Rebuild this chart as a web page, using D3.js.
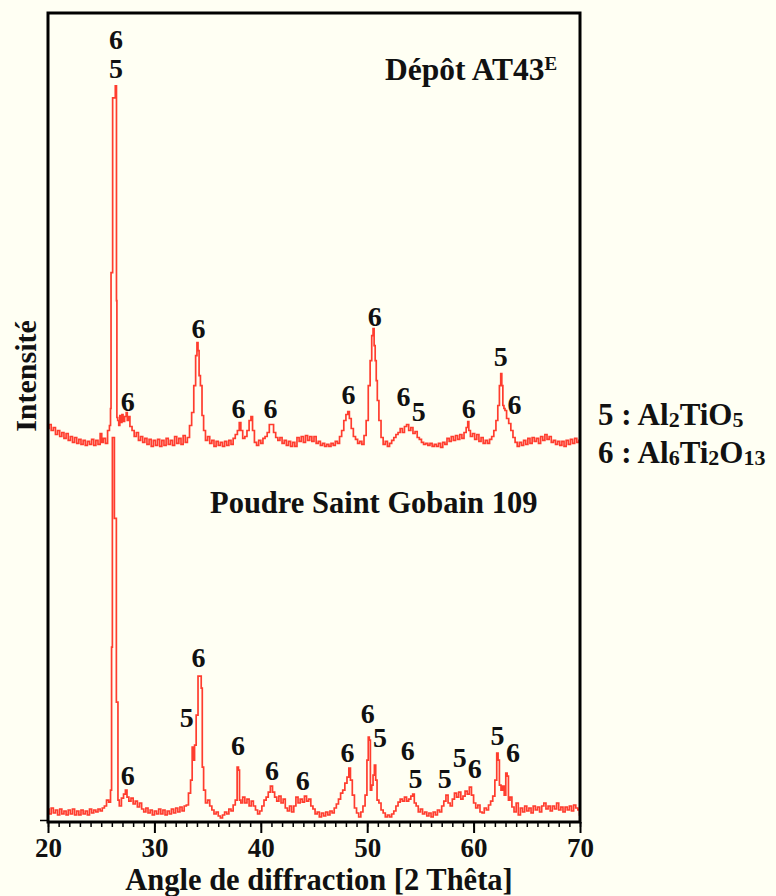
<!DOCTYPE html>
<html>
<head>
<meta charset="utf-8">
<script src="https://cdn.jsdelivr.net/npm/d3@7"></script>
<style>
  html, body { margin: 0; padding: 0; background: #fffff3; }
  svg text { font-family: "Liberation Serif", "Times New Roman", serif; fill: #111; }
</style>
</head>
<body>
<div id="chart"></div>
<script>
// Angle (2 theta) and intensity pairs, upper pattern (Dépôt AT43E)
const depotPoints = [
  [20.0, 24], [20.2, 28], [20.4, 22], [20.6, 25], [20.8, 18], [21.0, 22], [21.2, 16], [21.4, 20],
  [21.6, 14], [21.8, 19], [22.0, 12], [22.2, 16], [22.4, 10], [22.6, 15], [22.8, 9], [23.0, 13],
  [23.2, 8], [23.4, 12], [23.6, 7], [23.8, 11], [24.0, 8], [24.2, 13], [24.4, 7], [24.6, 12],
  [24.8, 8], [25.0, 19], [25.1, 10], [25.3, 14], [25.5, 9], [25.7, 22], [25.85, 27], [25.9, 44],
  [25.95, 180], [26.05, 180], [26.1, 355], [26.3, 355], [26.35, 367], [26.42, 367], [26.45, 152],
  [26.5, 35], [26.6, 32], [26.7, 27], [26.8, 37], [26.9, 30], [27.0, 38], [27.1, 31], [27.3, 36],
  [27.4, 40], [27.5, 32], [27.6, 36], [27.8, 26], [28.0, 22], [28.2, 16], [28.4, 20], [28.6, 12],
  [28.8, 16], [29.0, 10], [29.2, 14], [29.4, 8], [29.6, 13], [29.8, 6], [30.0, 12], [30.2, 7],
  [30.4, 13], [30.6, 6], [30.8, 12], [31.0, 7], [31.2, 14], [31.4, 8], [31.6, 12], [31.8, 7],
  [32.0, 16], [32.2, 9], [32.4, 14], [32.6, 8], [32.8, 17], [33.0, 10], [33.2, 15], [33.4, 27],
  [33.6, 40], [33.8, 67], [33.95, 97], [34.05, 110], [34.15, 102], [34.25, 77], [34.4, 67],
  [34.55, 37], [34.7, 22], [34.9, 12], [35.1, 16], [35.3, 9], [35.5, 12], [35.7, 6], [35.9, 11],
  [36.1, 7], [36.3, 10], [36.5, 6], [36.7, 11], [36.9, 7], [37.1, 12], [37.3, 8], [37.5, 14],
  [37.7, 18], [37.9, 22], [38.05, 30], [38.2, 22], [38.4, 14], [38.6, 16], [38.8, 22], [39.0, 32],
  [39.15, 36], [39.3, 22], [39.5, 10], [39.7, 7], [39.9, 12], [40.1, 9], [40.3, 14], [40.5, 16],
  [40.7, 20], [40.9, 28], [41.1, 28], [41.3, 20], [41.5, 15], [41.7, 12], [41.9, 15], [42.1, 9],
  [42.3, 12], [42.5, 7], [42.7, 11], [42.9, 6], [43.1, 10], [43.3, 6], [43.5, 15], [43.7, 11],
  [43.9, 16], [44.1, 10], [44.3, 17], [44.5, 12], [44.7, 16], [44.9, 11], [45.1, 16], [45.3, 9],
  [45.5, 11], [45.7, 7], [45.9, 9], [46.1, 6], [46.3, 8], [46.5, 6], [46.7, 9], [46.9, 7],
  [47.1, 11], [47.3, 9], [47.5, 16], [47.7, 22], [47.9, 32], [48.1, 38], [48.25, 41], [48.4, 34],
  [48.6, 24], [48.8, 16], [49.0, 13], [49.2, 9], [49.4, 11], [49.6, 8], [49.8, 17], [50.0, 32],
  [50.2, 67], [50.35, 92], [50.5, 117], [50.6, 124], [50.7, 107], [50.8, 92], [50.9, 72], [51.0, 52],
  [51.2, 32], [51.4, 15], [51.6, 8], [51.8, 11], [52.0, 6], [52.2, 9], [52.4, 12], [52.6, 15],
  [52.8, 18], [53.0, 20], [53.2, 24], [53.4, 20], [53.6, 26], [53.8, 28], [54.0, 22], [54.2, 25],
  [54.4, 19], [54.6, 21], [54.8, 15], [55.0, 13], [55.2, 10], [55.4, 8], [55.6, 9], [55.8, 7],
  [56.0, 9], [56.2, 6], [56.4, 8], [56.6, 6], [56.8, 9], [57.0, 5], [57.2, 10], [57.4, 8],
  [57.6, 14], [57.8, 11], [58.0, 16], [58.2, 12], [58.4, 17], [58.6, 13], [58.8, 18], [59.0, 14],
  [59.2, 20], [59.4, 25], [59.5, 31], [59.6, 22], [59.8, 16], [60.0, 19], [60.2, 13], [60.4, 18],
  [60.6, 11], [60.8, 15], [61.0, 9], [61.2, 12], [61.4, 9], [61.6, 13], [61.8, 16], [62.0, 22],
  [62.2, 32], [62.35, 47], [62.5, 67], [62.6, 79], [62.7, 67], [62.8, 47], [62.9, 44], [63.0, 42],
  [63.2, 34], [63.4, 29], [63.6, 22], [63.8, 15], [64.0, 10], [64.2, 6], [64.4, 10], [64.6, 7],
  [64.8, 12], [65.0, 8], [65.2, 14], [65.4, 9], [65.6, 15], [65.8, 11], [66.0, 14], [66.2, 9],
  [66.4, 16], [66.6, 12], [66.8, 18], [67.0, 13], [67.2, 16], [67.4, 10], [67.6, 12], [67.8, 8],
  [68.0, 11], [68.2, 7], [68.4, 11], [68.6, 6], [68.8, 12], [69.0, 8], [69.2, 13], [69.4, 9],
  [69.6, 14], [69.8, 10], [70.0, 12]
];

// lower pattern (Poudre Saint Gobain 109)
const poudrePoints = [
  [20.0, 13], [20.2, 8], [20.4, 14], [20.6, 9], [20.8, 12], [21.0, 7], [21.2, 13], [21.4, 8],
  [21.6, 11], [21.8, 7], [22.0, 12], [22.2, 8], [22.4, 13], [22.6, 7], [22.8, 11], [23.0, 7],
  [23.2, 12], [23.4, 8], [23.6, 11], [23.8, 7], [24.0, 13], [24.2, 9], [24.4, 12], [24.6, 10],
  [24.8, 13], [25.0, 11], [25.2, 14], [25.4, 16], [25.6, 22], [25.8, 20], [25.95, 32], [26.0, 175],
  [26.1, 385], [26.2, 385], [26.28, 304], [26.4, 304], [26.45, 120], [26.55, 120], [26.6, 22],
  [26.8, 16], [27.0, 24], [27.2, 28], [27.35, 32], [27.5, 25], [27.7, 21], [27.9, 24], [28.1, 18],
  [28.3, 21], [28.5, 15], [28.7, 19], [28.9, 13], [29.1, 10], [29.3, 14], [29.5, 9], [29.7, 12],
  [29.9, 7], [30.1, 11], [30.3, 8], [30.5, 13], [30.7, 8], [30.9, 12], [31.1, 7], [31.3, 11],
  [31.5, 8], [31.7, 13], [31.9, 9], [32.1, 14], [32.3, 10], [32.5, 15], [32.7, 11], [32.9, 16],
  [33.1, 17], [33.3, 29], [33.5, 42], [33.6, 75], [33.7, 62], [33.85, 77], [34.0, 107], [34.2, 146],
  [34.35, 146], [34.45, 134], [34.55, 55], [34.7, 32], [34.9, 19], [35.1, 22], [35.3, 16], [35.5, 12],
  [35.7, 8], [35.9, 10], [36.1, 6], [36.3, 4], [36.5, 7], [36.7, 10], [36.9, 8], [37.1, 13],
  [37.3, 11], [37.5, 17], [37.7, 22], [37.85, 55], [37.95, 52], [38.05, 22], [38.2, 19], [38.4, 25],
  [38.6, 19], [38.8, 23], [39.0, 16], [39.2, 21], [39.4, 16], [39.6, 12], [39.8, 8], [40.0, 11],
  [40.2, 16], [40.4, 22], [40.6, 25], [40.8, 30], [41.0, 36], [41.2, 30], [41.4, 25], [41.6, 21],
  [41.8, 26], [42.0, 19], [42.2, 23], [42.4, 14], [42.6, 11], [42.8, 16], [43.0, 10], [43.2, 16],
  [43.4, 25], [43.6, 19], [43.8, 23], [44.0, 20], [44.2, 26], [44.4, 21], [44.6, 23], [44.8, 16],
  [45.0, 13], [45.2, 8], [45.4, 10], [45.6, 5], [45.8, 9], [46.0, 6], [46.2, 10], [46.4, 7],
  [46.6, 11], [46.8, 9], [47.0, 14], [47.2, 18], [47.4, 23], [47.6, 29], [47.8, 32], [48.0, 39],
  [48.2, 45], [48.35, 54], [48.5, 42], [48.7, 27], [48.9, 14], [49.1, 9], [49.3, 5], [49.5, 10],
  [49.7, 16], [49.9, 27], [50.05, 62], [50.15, 85], [50.25, 82], [50.35, 32], [50.5, 37], [50.6, 47],
  [50.75, 57], [50.85, 42], [51.0, 22], [51.2, 19], [51.4, 12], [51.6, 9], [51.8, 5], [52.0, 7],
  [52.2, 5], [52.4, 8], [52.6, 11], [52.8, 16], [53.0, 20], [53.2, 23], [53.4, 21], [53.6, 25],
  [53.8, 21], [54.0, 23], [54.2, 26], [54.35, 28], [54.5, 19], [54.7, 16], [54.9, 10], [55.1, 13],
  [55.3, 8], [55.5, 10], [55.7, 6], [55.9, 9], [56.1, 5], [56.3, 10], [56.5, 7], [56.7, 12],
  [56.9, 10], [57.1, 16], [57.3, 21], [57.5, 27], [57.7, 19], [57.9, 16], [58.1, 23], [58.3, 29],
  [58.5, 25], [58.7, 30], [58.9, 23], [59.1, 26], [59.3, 31], [59.5, 28], [59.7, 35], [59.9, 27],
  [60.1, 19], [60.3, 14], [60.5, 17], [60.7, 10], [60.9, 9], [61.1, 14], [61.3, 12], [61.5, 17],
  [61.7, 21], [61.9, 26], [62.1, 42], [62.25, 69], [62.35, 62], [62.5, 37], [62.65, 32], [62.8, 36],
  [62.95, 27], [63.1, 49], [63.2, 46], [63.35, 22], [63.5, 25], [63.7, 15], [63.9, 10], [64.1, 19],
  [64.3, 7], [64.5, 14], [64.7, 10], [64.9, 16], [65.1, 11], [65.3, 14], [65.5, 9], [65.7, 16],
  [65.9, 12], [66.1, 15], [66.3, 10], [66.5, 16], [66.7, 19], [66.9, 13], [67.1, 16], [67.3, 11],
  [67.5, 16], [67.7, 13], [67.9, 19], [68.1, 12], [68.3, 15], [68.5, 10], [68.7, 15], [68.9, 12],
  [69.1, 16], [69.3, 11], [69.5, 17], [69.7, 14], [69.9, 12], [70.0, 7]
];

// vertical shift of the upper pattern, in intensity units
const depotOffset = 370;

// phase labels: [angle, intensity, label]
const depotLabels = [
  [26.4, 404, "6"], [26.4, 375, "5"], [27.5, 42, "6"], [34.15, 115, "6"], [37.9, 35, "6"],
  [40.9, 35, "6"], [48.25, 49, "6"], [50.7, 127, "6"], [53.4, 47, "6"], [54.85, 31, "5"],
  [59.55, 35, "6"], [62.55, 87, "5"], [63.85, 39, "6"]
];
const poudreLabels = [
  [27.5, 37, "6"], [33.05, 95, "5"], [34.15, 155, "6"], [37.85, 67, "6"], [41.05, 42, "6"],
  [43.95, 32, "6"], [48.15, 60, "6"], [50.05, 99, "6"], [51.2, 75, "5"], [53.8, 62, "6"],
  [54.55, 34, "5"], [57.3, 34, "5"], [58.7, 55, "5"], [60.1, 44, "6"], [62.25, 77, "5"],
  [63.7, 60, "6"]
];

const xTicks = [20, 30, 40, 50, 60, 70];

const width = 776, height = 896;
const margin = {top: 13, right: 196, bottom: 74, left: 48};
const red = "#ff3d2e";

const svg = d3.select("#chart").append("svg")
    .attr("width", width)
    .attr("height", height);

const x = d3.scaleLinear()
    .domain([20, 70])
    .range([margin.left, width - margin.right]);

const y = d3.scaleLinear()
    .domain([0, 810])
    .range([height - margin.bottom, margin.top]);

const line = d3.line()
    .curve(d3.curveStep)
    .x(d => x(d[0]))
    .y(d => y(d[1]));

// curves
svg.append("path")
    .datum(poudrePoints)
    .attr("d", line)
    .attr("fill", "none")
    .attr("stroke", red)
    .attr("stroke-width", 1.7);

svg.append("path")
    .datum(depotPoints.map(d => [d[0], d[1] + depotOffset]))
    .attr("d", line)
    .attr("fill", "none")
    .attr("stroke", red)
    .attr("stroke-width", 1.7);

// frame
svg.append("rect")
    .attr("x", x(20))
    .attr("y", y(810))
    .attr("width", x(70) - x(20))
    .attr("height", y(0) - y(810))
    .attr("fill", "none")
    .attr("stroke", "#000")
    .attr("stroke-width", 3);

// x axis: minor ticks every degree, majors every 10
const xAxisG = svg.append("g")
    .attr("transform", "translate(0," + y(0) + ")");

xAxisG.append("g")
    .call(d3.axisBottom(x).tickValues(d3.range(20, 71, 1)).tickSize(5).tickFormat(""))
    .call(g => g.select(".domain").remove())
    .call(g => g.selectAll("text").remove())
    .call(g => g.selectAll("line").attr("stroke", "#000").attr("stroke-width", 1.5));

xAxisG.append("g")
    .call(d3.axisBottom(x).tickValues(xTicks).tickSize(11).tickPadding(5).tickFormat(d3.format("d")))
    .call(g => g.select(".domain").remove())
    .call(g => g.selectAll("line").attr("stroke", "#000").attr("stroke-width", 2))
    .call(g => g.selectAll("text")
        .attr("font-size", 27)
        .attr("font-weight", "bold"));

// single y tick at the origin
svg.append("g")
    .attr("transform", "translate(" + x(20) + ",0)")
    .call(d3.axisLeft(y).tickValues([2]).tickSize(8).tickFormat(""))
    .call(g => g.select(".domain").remove())
    .call(g => g.selectAll("text").remove())
    .call(g => g.selectAll("line").attr("stroke", "#000").attr("stroke-width", 1.5));

// peak labels
function addLabels(labels, offset) {
    svg.append("g")
        .selectAll("text")
        .data(labels)
        .enter()
        .append("text")
        .attr("x", d => x(d[0]))
        .attr("y", d => y(d[1] + offset))
        .attr("text-anchor", "middle")
        .attr("font-size", 28)
        .attr("font-weight", "bold")
        .text(d => d[2]);
}
addLabels(depotLabels, depotOffset);
addLabels(poudreLabels, 0);

// titles
const t1 = svg.append("text")
    .attr("x", 385)
    .attr("y", 80)
    .attr("font-size", 31.5)
    .attr("font-weight", "bold");
t1.append("tspan").text("Dépôt AT43");
t1.append("tspan").attr("font-size", 19).attr("dy", -10).text("E");

svg.append("text")
    .attr("x", 210)
    .attr("y", 513)
    .attr("font-size", 30.5)
    .attr("font-weight", "bold")
    .text("Poudre Saint Gobain 109");

// axis titles
svg.append("text")
    .attr("x", (x(20) + x(70)) / 2 + 5)
    .attr("y", 890)
    .attr("text-anchor", "middle")
    .attr("font-size", 30.5)
    .attr("font-weight", "bold")
    .text("Angle de diffraction [2 Thêta]");

svg.append("text")
    .attr("transform", "translate(36,376) rotate(-90)")
    .attr("text-anchor", "middle")
    .attr("font-size", 30)
    .attr("font-weight", "bold")
    .text("Intensité");

// legend
const legendItems = [
    {y: 425, parts: [["5 : Al", 0], ["2", 1], ["TiO", 0], ["5", 1]]},
    {y: 463, parts: [["6 : Al", 0], ["6", 1], ["Ti", 0], ["2", 1], ["O", 0], ["13", 1]]}
];

legendItems.forEach(item => {
    const t = svg.append("text")
        .attr("x", 598)
        .attr("y", item.y)
        .attr("font-size", 31)
        .attr("font-weight", "bold");
    item.parts.forEach(p => {
        t.append("tspan")
            .attr("font-size", p[1] ? 22 : 31)
            .attr("baseline-shift", p[1] ? "-2" : null)
            .text(p[0]);
    });
});
</script>
</body>
</html>
